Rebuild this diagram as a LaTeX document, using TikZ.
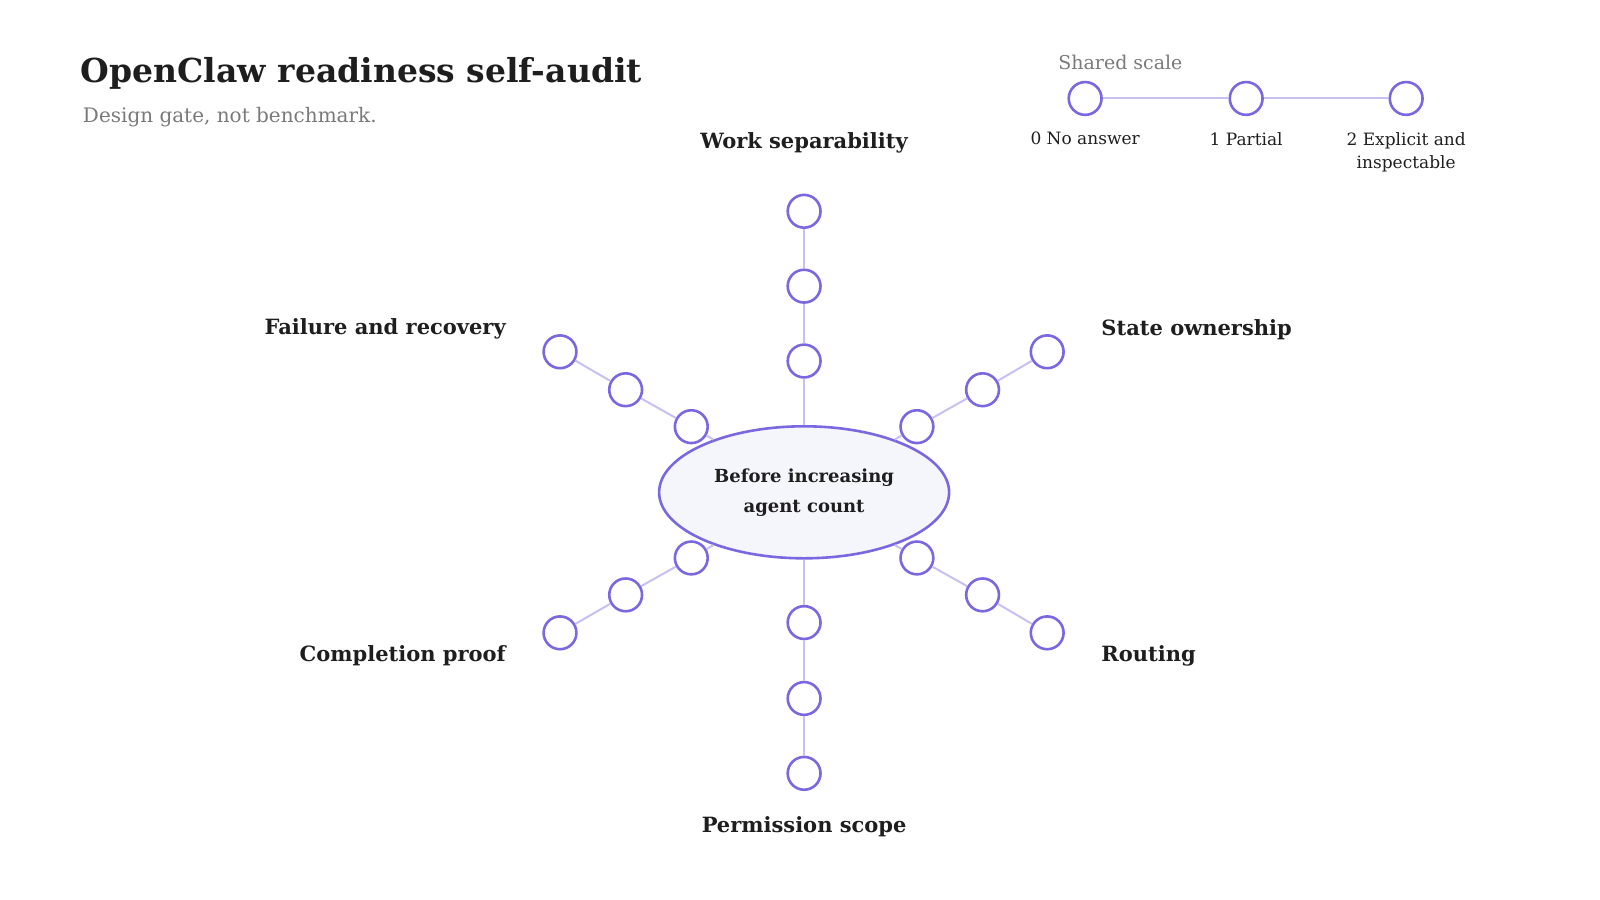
\documentclass[tikz,border=0pt]{standalone}
\usepackage{fontspec}
\setmainfont{DejaVu Serif}
\usetikzlibrary{shapes.geometric}
\definecolor{pur}{HTML}{7B68E0}
\definecolor{lpur}{HTML}{C9C0F2}
\definecolor{fillc}{HTML}{F5F5FC}
\definecolor{ink}{HTML}{1E1E1E}
\definecolor{gry}{HTML}{7A7A7A}
\begin{document}
\begin{tikzpicture}[x=0.5128pt,y=-0.5128pt,
  dot/.style={circle,draw=pur,line width=1.3pt,fill=white,minimum size=16.4pt,inner sep=0pt},
  spoke/.style={draw=lpur,line width=1pt},
  lab/.style={font=\bfseries\fontsize{10.5}{13}\selectfont,text=ink},
  leg/.style={font=\fontsize{8.5}{11.5}\selectfont,text=ink,align=center}]
\useasboundingbox (0,0) rectangle (1560,877.5);
\node[anchor=west,font=\bfseries\fontsize{16.5}{20}\selectfont,text=ink] (title) at (72,72) {OpenClaw readiness self-audit};
\node[anchor=west,font=\fontsize{10}{12}\selectfont,text=gry] (sub) at (74,114) {Design gate, not benchmark.};
% legend
\node[anchor=west,font=\fontsize{9.5}{12}\selectfont,text=gry] (sh) at (1025,61) {Shared scale};
\node[dot] (l0) at (1058,96) {};
\node[dot] (l1) at (1215,96) {};
\node[dot] (l2) at (1371,96) {};
\draw[spoke] (l0) -- (l1); \draw[spoke] (l1) -- (l2);
\node[leg,anchor=north] (t0) at (1058,122) {0 No answer};
\node[leg,anchor=north] (t1) at (1215,122) {1 Partial};
\node[leg,anchor=north] (t2) at (1371,122) {2 Explicit and\\inspectable};
% center
\node[ellipse,draw=pur,line width=1.3pt,fill=fillc,minimum width=145pt,minimum height=66pt,inner sep=0pt,align=center,font=\bfseries\fontsize{9}{15}\selectfont,text=ink] (c) at (784,480) {Before increasing\\agent count};
\foreach \n/\a/\b/\cc/\d/\e/\f in {t/784/352/784/279/784/206, ur/894/416/958/380/1021/343, lr/894/544/958/580/1021/617, b/784/607/784/681/784/754, ll/674/544/610/580/546/617, ul/674/416/610/380/546/343}{
  \node[dot] (\n1) at (\a,\b) {};
  \node[dot] (\n2) at (\cc,\d) {};
  \node[dot] (\n3) at (\e,\f) {};
}
\foreach \n in {t,ur,lr,b,ll,ul}{
  \draw[spoke] (c) -- (\n1); \draw[spoke] (\n1) -- (\n2); \draw[spoke] (\n2) -- (\n3);
}
\node[lab] (lt) at (784,139) {Work separability};
\node[lab,anchor=west] (lur) at (1067,321) {State ownership};
\node[lab,anchor=west] (llr) at (1067,639) {Routing};
\node[lab] (lb) at (784,806) {Permission scope};
\node[lab,anchor=east] (lll) at (500,639) {Completion proof};
\node[lab,anchor=east] (lul) at (500,321) {Failure and recovery};
\end{tikzpicture}
\end{document}
